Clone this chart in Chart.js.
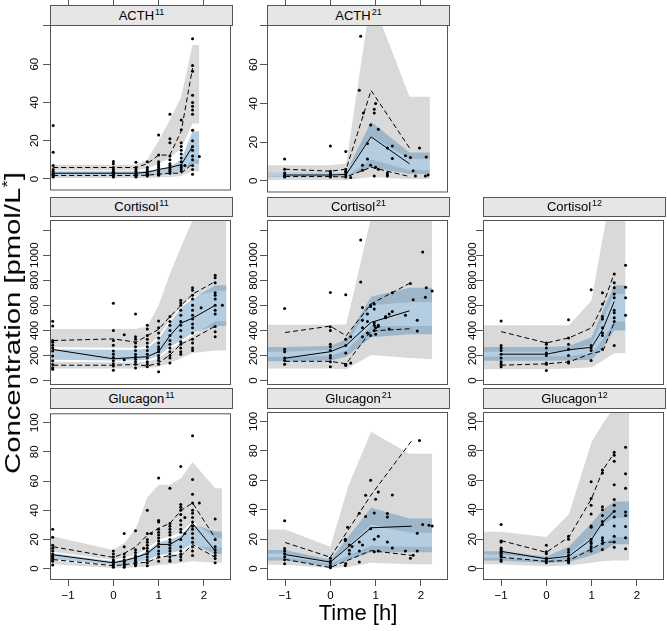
<!DOCTYPE html>
<html><head><meta charset="utf-8">
<script src="https://cdn.jsdelivr.net/npm/chart.js@4.4.1/dist/chart.umd.min.js"></script>
<style>
html,body{margin:0;padding:0;background:#fff;}
body{width:667px;height:631px;position:relative;overflow:hidden;font-family:"Liberation Sans",Arial,Helvetica,sans-serif;}
canvas{position:absolute;}
.strip{position:absolute;box-sizing:border-box;background:#e6e6e6;border:1px solid #555;text-align:center;font-size:13px;color:#000;z-index:5;white-space:nowrap;}
.strip sup{font-size:9px;vertical-align:0;position:relative;top:-5px;margin-left:1px;}
.ttl{position:absolute;white-space:nowrap;color:#000;line-height:1;z-index:6;}
.ttl sup{font-size:65%;vertical-align:0;position:relative;top:-0.55em;}
</style></head><body>
<script>
// ---------------- DATA ----------------
const xTicks = [-1, 0, 1, 2];
const xTickLabels = ['\u22121', '0', '1', '2'];
const acthTicks = [0, 20, 40, 60, 80];
const acthTickLabels = ['0', '20', '40', '60', ''];
const cortTicks = [0, 200, 400, 600, 800, 1000, 1200];
const cortTickLabels = ['0', '200', '400', '600', '800', '1000', ''];
const glucTicks = [0, 20, 40, 60, 80, 100];
const glucTickLabels = ['0', '20', '40', '60', '80', '100'];

// ACTH 11
const acth11BandT = [-1.4, -1.33, 0, 0.5, 0.75, 1.0, 1.25, 1.5, 1.75, 1.9];
const acth11Lo5  = [0.5, 0.5, 0.5, 0.5, 0.5, 0.8, 1, 1.5, 4, 4];
const acth11Hi5  = [1.8, 1.8, 1.8, 1.8, 2, 2.5, 3, 4, 10, 10];
const acth11Lo50 = [1.8, 1.8, 1.8, 1.8, 1.9, 2.2, 2.8, 4, 8, 8];
const acth11Hi50 = [4, 4, 4, 4, 4.3, 5, 6.5, 10, 25, 25];
const acth11Lo95 = [4.5, 4.5, 4.5, 4.5, 5.5, 8, 11, 16, 29, 29];
const acth11Hi95 = [7.5, 7.5, 7.5, 7.5, 10, 20, 31, 43, 70, 70];
const acth11Bins = [-1.33, 0, 0.5, 0.75, 1, 1.25, 1.5, 1.75];
const acth11P95 = [6, 6, 6, 8, 12.5, 12.5, 25, 58];
const acth11P50 = [3, 3, 3, 3.5, 5, 6, 7.5, 17];
const acth11P5  = [1.8, 1.8, 1.8, 2, 2.5, 3, 3, 8];
const acth11Obs = [
  [-1.33, [28, 14, 7, 5, 4, 3, 2.5, 2, 1.5, 1]],
  [0, [9.2, 8, 6, 5, 4, 3.5, 3, 2.5, 2, 1.5, 1]],
  [0.5, [8.8, 6, 5, 4, 3, 2.5, 2, 1.5, 1]],
  [0.75, [9, 6, 5, 4, 3, 2.5, 2, 1.5]],
  [1.0, [23, 12.5, 9, 8, 7, 6, 5, 4, 3, 2.5, 2]],
  [1.25, [33.8, 21, 19, 12, 10, 8, 7, 6, 5, 4, 3]],
  [1.5, [30.8, 25.8, 19, 17, 15, 13, 11, 9, 7, 6, 5, 4]],
  [1.58, [7]],
  [1.75, [73.3, 59.3, 56.3, 43.8, 40, 38, 36, 33.8, 25.5, 20, 17, 15, 12, 10, 7, 5, 2.5]],
  [1.9, [11.8]]
];

// ACTH 21
const acth21BandT = [-1.4, -1, 0, 0.35, 0.9, 1.75, 2.2];
const acth21Lo5  = [0.5, 0.5, 0.5, 0.5, 2, 1, 1];
const acth21Hi5  = [2.2, 2.2, 2.2, 2.2, 11, 5.5, 5.5];
const acth21Lo50 = [2, 2, 2, 2, 7, 3.5, 3.5];
const acth21Hi50 = [4.5, 4.5, 4.5, 4.5, 30.5, 14.7, 14.7];
const acth21Lo95 = [4.5, 4.5, 4.5, 5, 23, 11.3, 11.3];
const acth21Hi95 = [8, 8, 8, 9, 95, 43.5, 43.5];
const acth21Bins = [-1, 0, 0.35, 0.9, 1.75];
const acth21P95 = [6, 5, 6, 46.7, 17];
const acth21P50 = [3, 3, 3.3, 22.7, 8.8];
const acth21P5  = [2.2, 2.2, 2, 7, 2.2];
const acth21Obs = [
  [-1.01, [11.3, 6, 4, 3, 2.5, 2]],
  [0, [18, 5, 4, 3.5, 3, 2.5, 2]],
  [0.34, [15.2, 6, 5, 4, 3, 2]],
  [0.45, [1.7]],
  [0.64, [46.8]],
  [0.67, [74.7]],
  [0.71, [8, 5.5]],
  [0.73, [35]],
  [0.82, [19.3, 11.3]],
  [0.89, [28.8, 8]],
  [0.97, [37, 35, 2.5]],
  [1.0, [40, 7]],
  [1.06, [26.7, 6]],
  [1.26, [17, 4, 3, 2.5]],
  [1.37, [18, 11.5]],
  [1.66, [13]],
  [1.77, [12]],
  [1.83, [5.2]],
  [1.88, [2.5]],
  [1.97, [17]],
  [2.1, [2.5]],
  [2.12, [12.3]],
  [2.16, [3]]
];

// Cortisol 11
const cort11BandT = [-1.4, -1.33, 0, 0.5, 0.75, 1.0, 1.25, 1.5, 1.75, 2.25, 2.5];
const cort11Lo5  = [95, 95, 95, 95, 100, 110, 140, 180, 220, 240, 240];
const cort11Hi5  = [150, 150, 145, 145, 150, 178, 250, 300, 360, 472, 472];
const cort11Lo50 = [165, 165, 160, 160, 165, 195, 270, 320, 380, 434, 434];
const cort11Hi50 = [250, 250, 245, 245, 255, 330, 460, 580, 650, 760, 760];
const cort11Lo95 = [265, 265, 262, 262, 272, 350, 480, 600, 670, 714, 714];
const cort11Hi95 = [410, 410, 410, 410, 430, 600, 850, 1070, 1280, 1700, 1700];
const cort11Bins = [-1.33, 0, 0.5, 0.75, 1.0, 1.25, 1.5, 1.75, 2.25];
const cort11P95 = [319, 332, 306, 357, 408, 510, 600, 689, 790];
const cort11P50 = [247, 173, 184, 190, 230, 357, 459, 497, 600];
const cort11P5  = [122, 122, 128, 115, 140, 204, 293, 332, 434];
const cort11Obs = [
  [-1.34, [472, 434, 319, 306, 281, 260, 235, 196, 158, 128, 102, 89]],
  [0, [617, 400, 319, 281, 235, 209, 184, 158, 133, 115, 82]],
  [0.24, [365, 166]],
  [0.49, [530, 350, 330, 300, 270, 240, 210, 190, 170, 150, 130, 100]],
  [0.75, [440, 410, 360, 330, 300, 270, 240, 210, 180, 150, 130, 110]],
  [1.0, [475, 420, 380, 340, 300, 270, 250, 230, 200, 180, 160, 130, 70]],
  [1.25, [510, 470, 440, 400, 360, 320, 290, 260, 230, 200, 180, 140]],
  [1.49, [640, 620, 600, 560, 520, 470, 440, 400, 350, 310, 290, 260, 230, 210]],
  [1.75, [740, 720, 680, 650, 600, 560, 520, 490, 450, 420, 380, 330, 300, 260, 240]],
  [1.94, [580]],
  [2.25, [840, 820, 780, 700, 680, 650, 600, 560, 530, 430, 390, 350]],
  [2.41, [600]]
];

// Cortisol 21
const cort21BandT = [-1.4, -1, 0, 0.35, 0.9, 1.75, 2.25];
const cort21Lo5  = [95, 95, 95, 90, 204, 179, 170];
const cort21Hi5  = [190, 190, 195, 240, 435, 434, 434];
const cort21Lo50 = [153, 153, 160, 190, 345, 370, 370];
const cort21Hi50 = [268, 268, 275, 330, 668, 740, 740];
const cort21Lo95 = [230, 230, 245, 290, 600, 625, 625];
const cort21Hi95 = [445, 445, 445, 446, 1300, 1500, 1500];
const cort21Bins = [-1, 0, 0.35, 0.9, 1.75];
const cort21P95 = [383, 434, 357, 612, 775];
const cort21P50 = [178, 230, 281, 464, 556];
const cort21P5  = [153, 153, 133, 395, 413];
const cort21Obs = [
  [-1.01, [574, 250, 230, 180, 160, 130]],
  [0, [702, 429, 400, 290, 270, 240, 200, 180, 150, 110]],
  [0.34, [684, 330, 280, 220, 130, 120]],
  [0.45, [350, 140]],
  [0.67, [1122, 786]],
  [0.71, [582, 480, 420, 350]],
  [0.82, [530, 470, 380]],
  [0.89, [600, 590, 360]],
  [0.97, [610, 570, 460, 440, 400]],
  [1.0, [420, 370]],
  [1.06, [440, 430]],
  [1.22, [510, 500]],
  [1.3, [530, 410]],
  [1.37, [700, 550]],
  [1.66, [520]],
  [1.77, [775]],
  [1.83, [645]],
  [1.92, [480, 395]],
  [2.04, [1025]],
  [2.1, [665]],
  [2.12, [740]],
  [2.25, [715]]
];

// Cortisol 12
const cort12BandT = [-1.4, -1, 0, 0.5, 1.0, 1.25, 1.5, 1.75];
const cort12Lo5  = [90, 90, 90, 95, 105, 160, 217, 217];
const cort12Hi5  = [191, 191, 191, 195, 215, 330, 470, 470];
const cort12Lo50 = [158, 158, 158, 160, 165, 260, 400, 400];
const cort12Hi50 = [268, 268, 268, 275, 345, 560, 760, 760];
const cort12Lo95 = [230, 230, 230, 235, 290, 480, 690, 690];
const cort12Hi95 = [440, 440, 440, 441, 640, 1150, 1600, 1600];
const cort12Bins = [-1, 0, 0.5, 1.0, 1.25, 1.5];
const cort12P95 = [390, 300, 340, 420, 600, 855];
const cort12P50 = [210, 210, 245, 265, 410, 630];
const cort12P5  = [122, 133, 148, 217, 235, 464];
const cort12Obs = [
  [-1, [475, 280, 260, 240, 210, 180, 150, 130, 110]],
  [0, [300, 290, 260, 220, 200, 140, 130, 80]],
  [0.49, [485, 340, 290, 250, 200, 150, 140]],
  [0.99, [725, 280, 260, 240, 160]],
  [1.24, [700, 610, 510, 490, 420, 380, 360, 250]],
  [1.5, [850, 780, 740, 690, 660, 560, 540, 500, 470, 280]],
  [1.75, [920, 745, 660, 520]]
];

// Glucagon 11
const gluc11BandT = [-1.4, -1.33, 0, 0.25, 0.5, 0.75, 1.0, 1.25, 1.5, 1.75, 2.25, 2.4];
const gluc11Lo5  = [3, 3, 0.5, 0.5, 1, 1.5, 2.5, 3, 4, 5, 4, 4];
const gluc11Hi5  = [5.5, 5.5, 2, 2.5, 3.5, 5, 7.5, 9, 11, 15.5, 14.4, 14.4];
const gluc11Lo50 = [6.5, 6.5, 2.5, 3, 4, 6, 9, 10.5, 12.5, 17, 10, 10];
const gluc11Hi50 = [10.5, 10.5, 5, 6.5, 8.5, 12, 18, 20, 23, 30.5, 25.5, 25.5];
const gluc11Lo95 = [11.5, 11.5, 6, 7.5, 9.5, 13.5, 20, 22, 25, 32.5, 21, 21];
const gluc11Hi95 = [22, 22, 12.8, 17.7, 27.7, 48.7, 57.5, 57.5, 62, 73, 55, 55];
const gluc11Bins = [-1.33, 0, 0.25, 0.5, 0.75, 1.0, 1.25, 1.5, 1.75, 2.25];
const gluc11P95 = [15, 7.7, 10.6, 15, 23, 27.7, 31, 40, 45, 21];
const gluc11P50 = [9.5, 4, 5.5, 7.7, 10.4, 16.6, 16.6, 21, 31, 12.2];
const gluc11P5  = [6.2, 2, 2.7, 3.8, 4.4, 7.7, 8.9, 8.9, 16.6, 7.7];
const gluc11Obs = [
  [-1.34, [27, 21.5, 16, 14, 12, 10, 9, 8, 7, 6, 5, 2.5]],
  [0, [12, 10, 8, 6, 5, 4, 3, 2, 1]],
  [0.24, [24, 15, 10, 8, 6, 5, 4, 3, 2, 1]],
  [0.49, [26, 13, 11, 9, 8, 7, 6, 5, 4, 3, 2]],
  [0.67, [14]],
  [0.75, [40, 24, 20, 18, 16, 14, 12, 10, 8, 6, 4, 2]],
  [0.84, [24]],
  [1.0, [62, 33, 32, 27, 25, 23, 21, 19, 17, 15, 12, 10, 8, 5]],
  [1.25, [55, 31, 29, 27, 25, 23, 20, 18, 16, 14, 12, 10, 8, 6, 5]],
  [1.49, [70, 44, 42, 40, 37, 33, 30, 27, 25, 20, 15, 12, 10, 8, 6]],
  [1.58, [35, 24]],
  [1.75, [91, 61, 51, 45, 40, 38, 35, 32, 29, 27, 24, 21, 18, 15, 12, 9]],
  [1.9, [45]],
  [2.25, [34, 20, 15, 13, 11, 9, 7, 4]]
];

// Glucagon 21
const gluc21BandT = [-1.4, -1, 0, 0.4, 0.9, 1.75, 2.25];
const gluc21Lo5  = [2.5, 2.5, 0.3, 1, 4, 3, 3];
const gluc21Hi5  = [7.7, 7.7, 3.5, 8.8, 15.5, 14.8, 14.8];
const gluc21Lo50 = [5.5, 5.5, 1.5, 5.7, 11, 11, 11];
const gluc21Hi50 = [12.6, 12.6, 6, 21.7, 41.4, 34, 34];
const gluc21Lo95 = [10, 10, 4.5, 15.8, 30, 24.3, 24.3];
const gluc21Hi95 = [26.5, 26.5, 14.8, 56.4, 93, 78, 78];
const gluc21Bins = [-1, 0, 0.9, 1.8];
const gluc21P95 = [17.7, 7.7, 50, 87];
const gluc21P50 = [9.5, 4.4, 27.7, 28.8];
const gluc21P5  = [6.2, 0.7, 12.2, 8.9];
const gluc21Obs = [
  [-1.01, [32.5, 13.7, 12, 10, 8, 6, 3.3]],
  [0, [7, 5, 4, 2, 1, 0.5]],
  [0.33, [20, 19, 2]],
  [0.34, [3.5]],
  [0.38, [28]],
  [0.42, [16, 12.5, 10]],
  [0.48, [15]],
  [0.64, [37.6, 18, 12, 4.5]],
  [0.71, [16]],
  [0.78, [49.8, 35.4]],
  [0.89, [60, 27]],
  [0.97, [37.8, 20, 11.5]],
  [1.0, [47.1]],
  [1.06, [52, 22, 12]],
  [1.26, [37.5, 35, 18]],
  [1.37, [50, 14]],
  [1.66, [12]],
  [1.77, [7]],
  [1.83, [9]],
  [1.92, [24, 12]],
  [1.97, [87]],
  [2.04, [30]],
  [2.18, [29.5]],
  [2.25, [29]]
];

// Glucagon 12
const gluc12BandT = [-1.4, -1, 0, 0.5, 1.0, 1.25, 1.5, 1.83];
const gluc12Lo5  = [3, 3, 1.5, 2, 4, 5, 5.5, 5.5];
const gluc12Hi5  = [7.3, 7.3, 5.5, 7.5, 14, 17, 21.5, 21.5];
const gluc12Lo50 = [5.5, 5.5, 3.8, 4.5, 9, 12, 16.5, 16.5];
const gluc12Hi50 = [11.7, 11.7, 8, 15, 31, 40, 45.5, 45.5];
const gluc12Lo95 = [9.5, 9.5, 6.5, 10, 22, 30, 34.5, 34.5];
const gluc12Hi95 = [25, 25, 21.5, 37, 86, 98.5, 110, 110];
const gluc12Bins = [-1, 0, 0.5, 1.0, 1.25, 1.5];
const gluc12P95 = [19, 11, 21.5, 47.6, 67, 78.6];
const gluc12P50 = [11.7, 6.6, 8.4, 20, 31.5, 39];
const gluc12P5  = [7.7, 4.9, 5.5, 13.3, 17.7, 18.1];
const gluc12Obs = [
  [-1, [29.9, 18.8, 18, 14, 13, 12, 11, 10, 9, 8, 6, 5]],
  [0, [15.9, 11.5, 10, 7, 6, 5, 4]],
  [0.49, [21.9, 20, 13, 11, 9, 7, 6, 5, 4]],
  [0.99, [59, 47.6, 43, 37, 29, 28, 20, 18, 17, 15, 14, 12]],
  [1.24, [67, 65, 42, 40, 36, 32, 30, 21, 19, 17, 13]],
  [1.5, [79, 77, 73, 57, 47, 43, 39, 35, 29, 22, 18, 14.5]],
  [1.75, [82.5, 64.5, 54.5, 38.5, 36, 28.5, 21, 13.5]]
];

// ---------------- LAYOUT / STYLE ----------------
const FONT = '"Liberation Sans", Arial, Helvetica, sans-serif';
const EDGE = '#555';
const GREY = '#d9d9d9';
const BLUE = 'rgba(70,130,180,0.4)';
const TICK_FS = 11.5;
const COLS = [50, 267, 483];
const LABEL_OFF = [15, 13, 10];
const PW = 183;
const ROWS = [
  {top: 25, bottom: 197, strip: 5},
  {top: 216, bottom: 387, strip: 197},
  {top: 408, bottom: 579, strip: 388}
];
const X_MIN = -1.4, X_MAX = 2.6;
const rowScales = [
  {min: -5.5, max: 80.5, ticks: acthTicks, labels: acthTickLabels},
  {min: -28, max: 1281, ticks: cortTicks, labels: cortTickLabels},
  {min: -7.1, max: 106.4, ticks: glucTicks, labels: glucTickLabels}
];

const panels = [
  {name: 'ACTH', sup: '11', col: 0, row: 0, T: acth11BandT, b: [acth11Lo5, acth11Hi5, acth11Lo50, acth11Hi50, acth11Lo95, acth11Hi95], bins: acth11Bins, p: [acth11P5, acth11P50, acth11P95], obs: acth11Obs},
  {name: 'ACTH', sup: '21', col: 1, row: 0, T: acth21BandT, b: [acth21Lo5, acth21Hi5, acth21Lo50, acth21Hi50, acth21Lo95, acth21Hi95], bins: acth21Bins, p: [acth21P5, acth21P50, acth21P95], obs: acth21Obs},
  {name: 'Cortisol', sup: '11', col: 0, row: 1, T: cort11BandT, b: [cort11Lo5, cort11Hi5, cort11Lo50, cort11Hi50, cort11Lo95, cort11Hi95], bins: cort11Bins, p: [cort11P5, cort11P50, cort11P95], obs: cort11Obs},
  {name: 'Cortisol', sup: '21', col: 1, row: 1, T: cort21BandT, b: [cort21Lo5, cort21Hi5, cort21Lo50, cort21Hi50, cort21Lo95, cort21Hi95], bins: cort21Bins, p: [cort21P5, cort21P50, cort21P95], obs: cort21Obs},
  {name: 'Cortisol', sup: '12', col: 2, row: 1, T: cort12BandT, b: [cort12Lo5, cort12Hi5, cort12Lo50, cort12Hi50, cort12Lo95, cort12Hi95], bins: cort12Bins, p: [cort12P5, cort12P50, cort12P95], obs: cort12Obs},
  {name: 'Glucagon', sup: '11', col: 0, row: 2, T: gluc11BandT, b: [gluc11Lo5, gluc11Hi5, gluc11Lo50, gluc11Hi50, gluc11Lo95, gluc11Hi95], bins: gluc11Bins, p: [gluc11P5, gluc11P50, gluc11P95], obs: gluc11Obs},
  {name: 'Glucagon', sup: '21', col: 1, row: 2, T: gluc21BandT, b: [gluc21Lo5, gluc21Hi5, gluc21Lo50, gluc21Hi50, gluc21Lo95, gluc21Hi95], bins: gluc21Bins, p: [gluc21P5, gluc21P50, gluc21P95], obs: gluc21Obs},
  {name: 'Glucagon', sup: '12', col: 2, row: 2, T: gluc12BandT, b: [gluc12Lo5, gluc12Hi5, gluc12Lo50, gluc12Hi50, gluc12Lo95, gluc12Hi95], bins: gluc12Bins, p: [gluc12P5, gluc12P50, gluc12P95], obs: gluc12Obs}
];

// ---------------- HELPERS ----------------
const mctx = document.createElement('canvas').getContext('2d');
function textW(s, size) { mctx.font = 'normal ' + size + 'px ' + FONT; return mctx.measureText(s).width; }
function series(T, V) { return T.map((t, i) => ({x: t, y: V[i]})); }
function obsPts(groups) { const out = []; groups.forEach(([t, vs]) => vs.forEach(v => out.push({x: t, y: v}))); return out; }
function band(T, V, fillTo, color) {
  return {data: series(T, V), borderColor: 'rgba(0,0,0,0)', borderWidth: 0, pointRadius: 0,
    fill: fillTo === null ? false : fillTo, backgroundColor: color, tension: 0};
}
function pline(T, V, dash) {
  return {data: series(T, V), borderColor: '#000', borderWidth: 1, borderDash: dash, pointRadius: 0, fill: false, tension: 0};
}
const boxPlugin = {
  id: 'panelBox',
  afterDraw(c) {
    const a = c.chartArea, ctx = c.ctx;
    ctx.save(); ctx.strokeStyle = EDGE; ctx.lineWidth = 1;
    ctx.strokeRect(a.left + 0.5, a.top + 0.5, a.right - a.left - 1, a.bottom - a.top);
    ctx.restore();
  }
};
const setX = s => { s.ticks = xTicks.map(v => ({value: v})); };

// ---------------- BUILD ----------------
panels.forEach(p => {
  const row = ROWS[p.row], L = COLS[p.col], H = row.bottom - row.top;
  const isTop = p.row === 0, isBot = p.row === 2;
  const padTop = isTop ? 25 : 0, padBot = isBot ? 52 : 1;
  const cw = 50 + PW + 2, ch = padTop + H + padBot;
  const cv = document.createElement('canvas');
  cv.width = cw; cv.height = ch;
  cv.style.left = (L - 50) + 'px'; cv.style.top = (row.top - padTop) + 'px';
  cv.style.width = cw + 'px'; cv.style.height = ch + 'px';
  document.body.appendChild(cv);

  const st = document.createElement('div');
  st.className = 'strip';
  st.style.left = L + 'px'; st.style.top = row.strip + 'px';
  st.style.width = PW + 'px'; st.style.height = (row.top - row.strip + 1) + 'px';
  st.style.lineHeight = (row.top - row.strip - 1) + 'px';
  st.innerHTML = p.name + '<sup>' + p.sup + '</sup>';
  document.body.appendChild(st);

  const ys = rowScales[p.row];
  const widest = Math.max(...ys.labels.map(s => textW(s, TICK_FS)));
  const TL = 7;
  const yPad = LABEL_OFF[p.col] - TL - widest / 2;

  const ds = [
    {data: obsPts(p.obs), showLine: false, pointRadius: 1.5, pointBackgroundColor: '#000', pointBorderWidth: 0, borderColor: '#000', fill: false},
    pline(p.bins, p.p[2], [5, 3]),
    pline(p.bins, p.p[1], []),
    pline(p.bins, p.p[0], [5, 3]),
    band(p.T, p.b[3], 5, BLUE),
    band(p.T, p.b[2], null, BLUE),
    band(p.T, p.b[5], 7, GREY),
    band(p.T, p.b[4], null, GREY),
    band(p.T, p.b[1], 9, GREY),
    band(p.T, p.b[0], null, GREY)
  ];

  const scales = {
    x: {
      type: 'linear', min: X_MIN, max: X_MAX, position: 'bottom', display: isBot,
      grid: {drawOnChartArea: false, drawTicks: true, tickLength: TL, color: EDGE, lineWidth: 1},
      border: {display: false},
      ticks: {font: {size: TICK_FS, family: FONT}, color: '#000', padding: 3, maxRotation: 0, autoSkip: false,
        callback: (v, i) => xTickLabels[i]},
      afterBuildTicks: setX,
      afterFit: s => { s.height = isBot ? 52 : 0; }
    },
    y: {
      type: 'linear', min: ys.min, max: ys.max, position: 'left',
      grid: {drawOnChartArea: false, drawTicks: true, tickLength: TL, color: EDGE, lineWidth: 1},
      border: {display: false},
      ticks: {font: {size: TICK_FS, family: FONT}, color: '#000', minRotation: 90, maxRotation: 90,
        crossAlign: 'center', padding: yPad, autoSkip: false, callback: (v, i) => ys.labels[i]},
      afterBuildTicks: s => { s.ticks = ys.ticks.map(v => ({value: v})); },
      afterFit: s => { s.width = 50; }
    }
  };
  if (isTop) {
    scales.x2 = {
      type: 'linear', min: X_MIN, max: X_MAX, position: 'top', display: true,
      grid: {drawOnChartArea: false, drawTicks: true, tickLength: 25, color: EDGE, lineWidth: 1},
      border: {display: false},
      ticks: {display: false},
      afterBuildTicks: setX,
      afterFit: s => { s.height = 25; }
    };
  }

  new Chart(cv, {
    type: 'line',
    data: {datasets: ds},
    options: {
      responsive: false, animation: false,
      layout: {padding: {top: 0, right: 2, bottom: isBot ? 0 : 1, left: 0}},
      plugins: {legend: {display: false}, tooltip: {enabled: false}},
      scales: scales
    },
    plugins: [boxPlugin]
  });
});

// axis titles
const yt = document.createElement('div');
yt.className = 'ttl';
yt.style.fontSize = '22px';
yt.style.left = '13px'; yt.style.top = '323px';
yt.style.transform = 'translate(-50%,-50%) rotate(-90deg) scaleX(1.33)';
yt.innerHTML = 'Concentration [pmol/L<sup>*</sup>]';
document.body.appendChild(yt);

const xt = document.createElement('div');
xt.className = 'ttl';
xt.style.fontSize = '22px';
xt.style.left = '358px'; xt.style.top = '613px';
xt.style.transform = 'translate(-50%,-50%)';
xt.textContent = 'Time [h]';
document.body.appendChild(xt);
</script>
</body></html>
